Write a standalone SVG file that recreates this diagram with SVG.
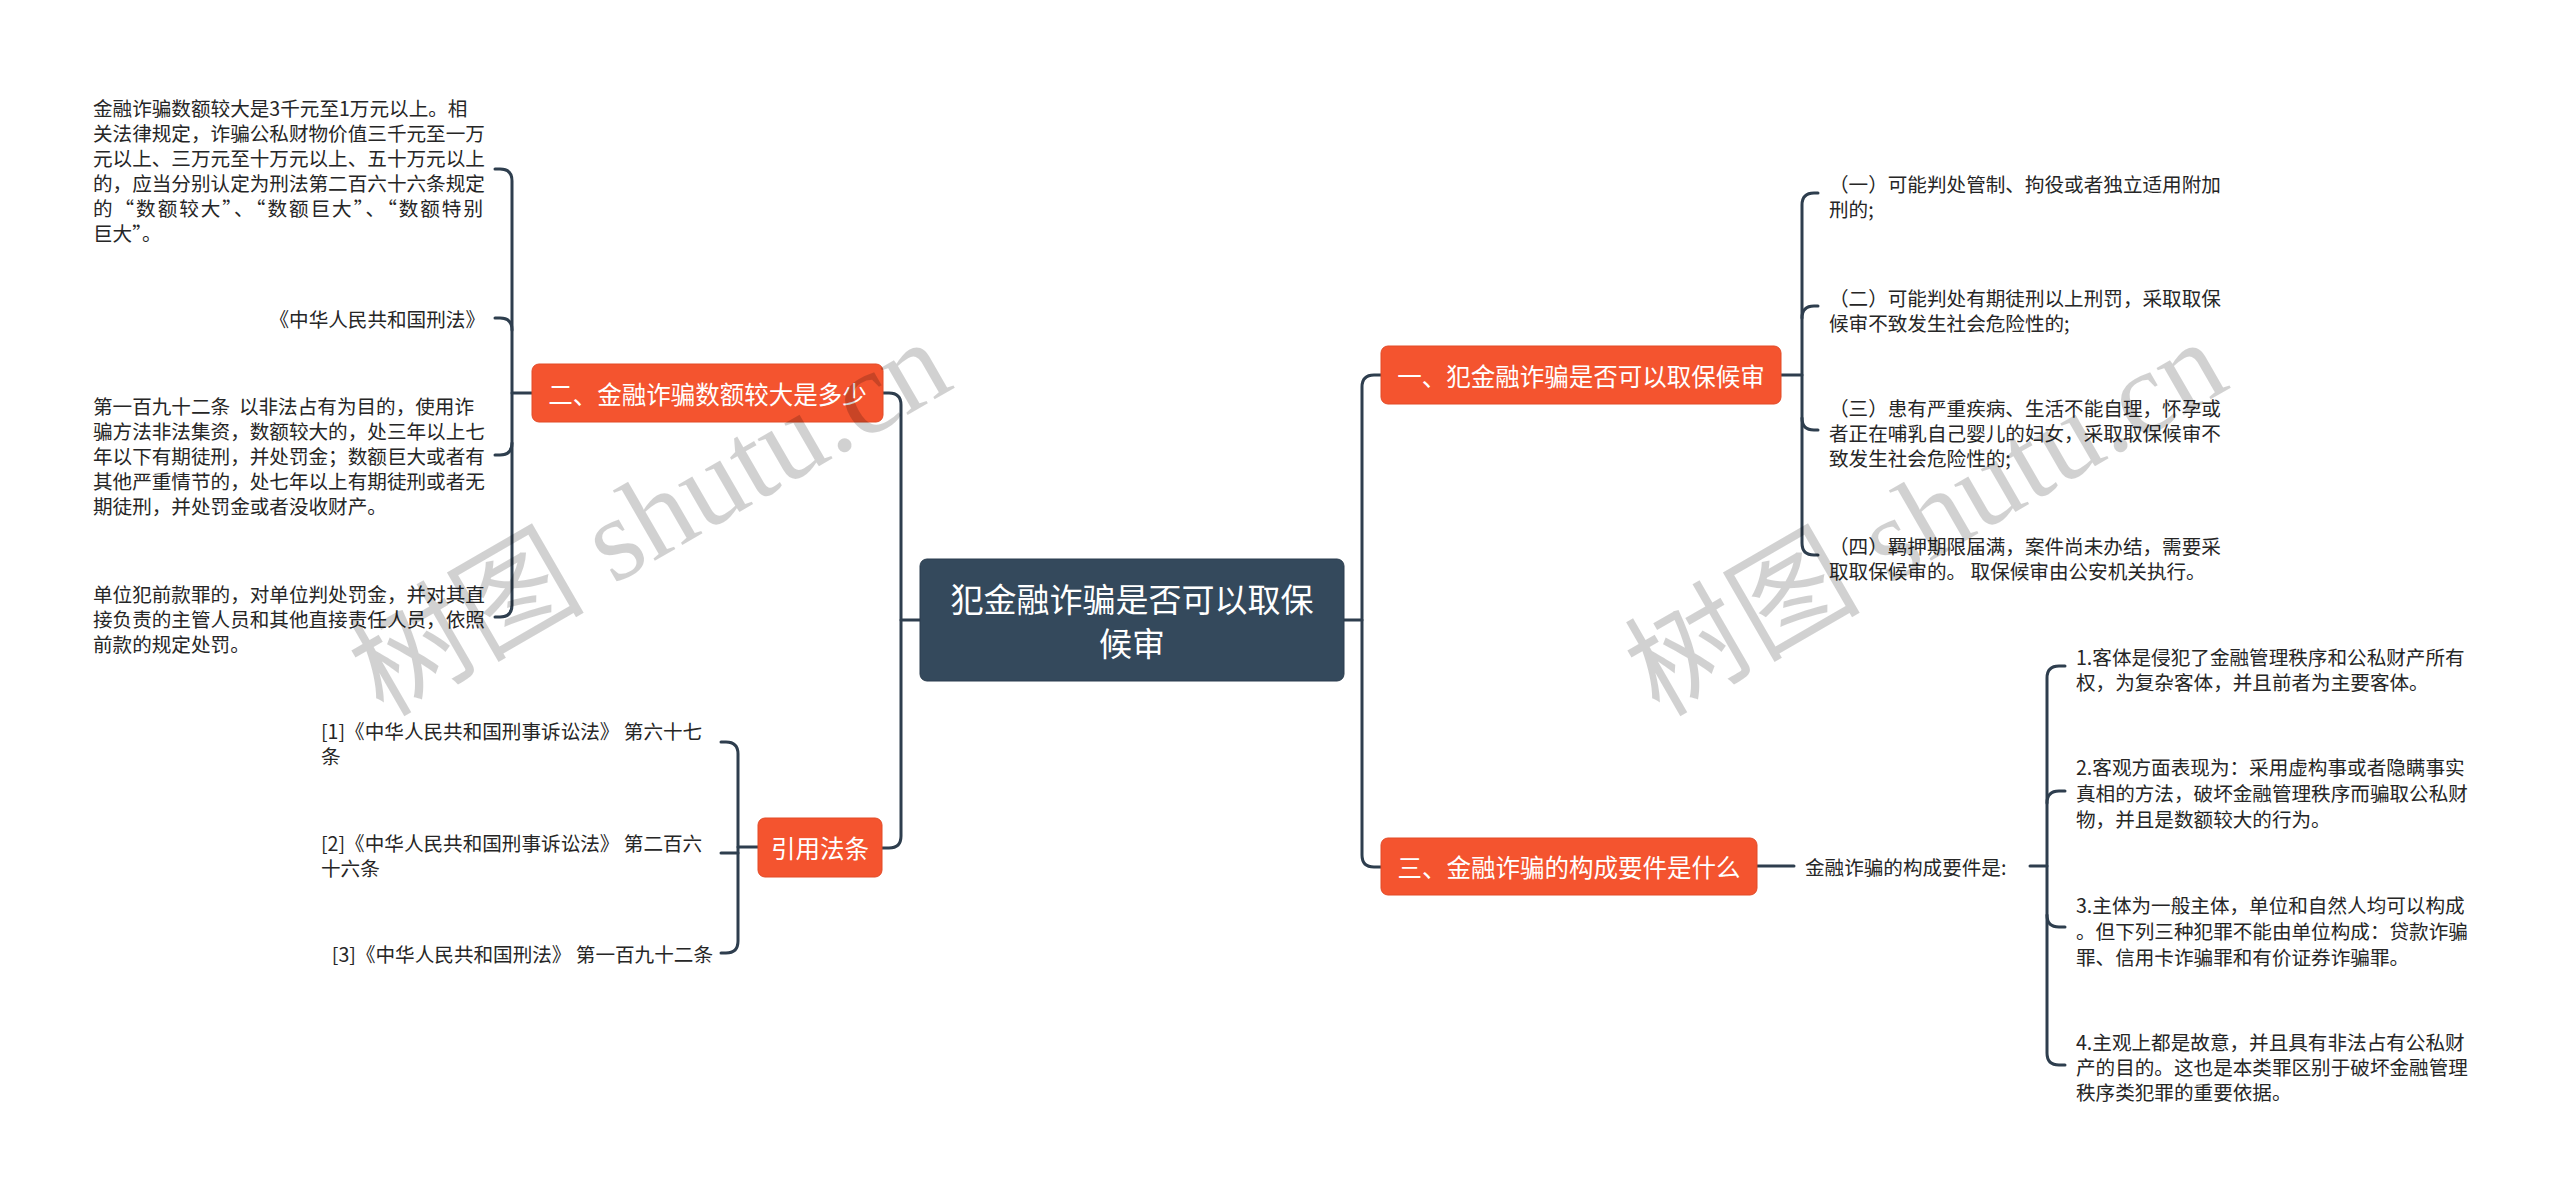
<svg xmlns="http://www.w3.org/2000/svg" width="2560" height="1197" viewBox="0 0 2560 1197">
<style>
text { font-family: "Noto Sans CJK SC", "Liberation Sans", sans-serif; dominant-baseline: central; }
.leaf { font-size: 19.6px; fill: #262626; }
.main { font-size: 24.5px; fill: #ffffff; text-anchor: middle; }
.center { font-size: 33px; fill: #ffffff; text-anchor: middle; }
.mbox { fill: #f4542f; stroke: #e24a27; stroke-width: 1; }
.cbox { fill: #34495c; stroke: #2b3d4e; stroke-width: 1; }
.conn { fill: none; stroke: #2e3e4e; stroke-width: 3; stroke-linecap: round; }
.end { text-anchor: end; }
.wm { font-family: "Liberation Serif", "Noto Sans CJK SC", serif; font-size: 118px; fill: #000; fill-opacity: 0.18; text-anchor: middle; }
</style>
<rect width="2560" height="1197" fill="#ffffff"/>

<g id="connectors">
  <path class="conn" d="M 920 620 H 901"/>
  <path class="conn" d="M 883 393 H 889 Q 901 393 901 405 V 836 Q 901 848 889 848 H 882"/>
  <path class="conn" d="M 1344 620 H 1362"/>
  <path class="conn" d="M 1381 375 H 1374 Q 1362 375 1362 387 V 855 Q 1362 867 1374 867 H 1381"/>

  <path class="conn" d="M 532 393 H 512"/>
  <path class="conn" d="M 495 169 H 500 Q 512 169 512 181 V 605 Q 512 617 500 617 H 495"/>
  <path class="conn" d="M 495 318 H 500 Q 512 318 512 330"/>
  <path class="conn" d="M 495 455 H 500 Q 512 455 512 443"/>

  <path class="conn" d="M 758 847 H 738"/>
  <path class="conn" d="M 721 742 H 726 Q 738 742 738 754 V 941 Q 738 953 726 953 H 721"/>
  <path class="conn" d="M 721 853 H 738"/>

  <path class="conn" d="M 1781 375 H 1802"/>
  <path class="conn" d="M 1818 193 H 1814 Q 1802 193 1802 205 V 543 Q 1802 555 1814 555 H 1818"/>
  <path class="conn" d="M 1818 306 H 1814 Q 1802 306 1802 318"/>
  <path class="conn" d="M 1818 430 H 1814 Q 1802 430 1802 418"/>

  <path class="conn" d="M 1757 866 H 1794"/>
  <path class="conn" d="M 2030 866 H 2047"/>
  <path class="conn" d="M 2065 666 H 2059 Q 2047 666 2047 678 V 1053 Q 2047 1065 2059 1065 H 2065"/>
  <path class="conn" d="M 2065 791 H 2059 Q 2047 791 2047 803"/>
  <path class="conn" d="M 2065 927 H 2059 Q 2047 927 2047 915"/>
</g>

<g id="center">
  <rect class="cbox" x="920" y="559" width="424" height="122" rx="7"/>
  <text class="center" x="1132" y="598">犯金融诈骗是否可以取保</text>
  <text class="center" x="1132" y="642">候审</text>
</g>

<g id="main1">
  <rect class="mbox" x="1381" y="346" width="400" height="58" rx="7"/>
  <text class="main" x="1581" y="375">一、犯金融诈骗是否可以取保候审</text>
</g>
<g id="main2">
  <rect class="mbox" x="532" y="364" width="351" height="58" rx="7"/>
  <text class="main" x="707.5" y="393">二、金融诈骗数额较大是多少</text>
</g>
<g id="main3">
  <rect class="mbox" x="1381" y="838" width="376" height="57" rx="7"/>
  <text class="main" x="1569" y="866">三、金融诈骗的构成要件是什么</text>
</g>
<g id="main4">
  <rect class="mbox" x="758" y="818" width="124" height="59" rx="7"/>
  <text class="main" x="820" y="847">引用法条</text>
</g>

<g id="m2c1">
  <text class="leaf" x="93" y="107">金融诈骗数额较大是3千元至1万元以上。相</text>
  <text class="leaf" x="93" y="132">关法律规定，诈骗公私财物价值三千元至一万</text>
  <text class="leaf" x="93" y="157">元以上、三万元至十万元以上、五十万元以上</text>
  <text class="leaf" x="93" y="182">的，应当分别认定为刑法第二百六十六条规定</text>
  <text class="leaf" x="93" y="207" textLength="390" lengthAdjust="spacing">的“数额较大”、“数额巨大”、“数额特别</text>
  <text class="leaf" x="93" y="232">巨大”。</text>
</g>
<g id="m2c2">
  <text class="leaf end" x="485" y="318">《中华人民共和国刑法》</text>
</g>
<g id="m2c3">
  <text class="leaf" x="93" y="405" xml:space="preserve">第一百九十二条  以非法占有为目的，使用诈</text>
  <text class="leaf" x="93" y="430">骗方法非法集资，数额较大的，处三年以上七</text>
  <text class="leaf" x="93" y="455">年以下有期徒刑，并处罚金；数额巨大或者有</text>
  <text class="leaf" x="93" y="480">其他严重情节的，处七年以上有期徒刑或者无</text>
  <text class="leaf" x="93" y="505">期徒刑，并处罚金或者没收财产。</text>
</g>
<g id="m2c4">
  <text class="leaf" x="93" y="593">单位犯前款罪的，对单位判处罚金，并对其直</text>
  <text class="leaf" x="93" y="618">接负责的主管人员和其他直接责任人员，依照</text>
  <text class="leaf" x="93" y="643">前款的规定处罚。</text>
</g>

<g id="m4c1">
  <text class="leaf" x="321" y="730">[1]《中华人民共和国刑事诉讼法》 第六十七</text>
  <text class="leaf" x="321" y="755">条</text>
</g>
<g id="m4c2">
  <text class="leaf" x="321" y="842">[2]《中华人民共和国刑事诉讼法》 第二百六</text>
  <text class="leaf" x="321" y="867">十六条</text>
</g>
<g id="m4c3">
  <text class="leaf end" x="713" y="953">[3]《中华人民共和国刑法》 第一百九十二条</text>
</g>

<g id="m1c1">
  <text class="leaf" x="1829" y="183">（一）可能判处管制、拘役或者独立适用附加</text>
  <text class="leaf" x="1829" y="208">刑的;</text>
</g>
<g id="m1c2">
  <text class="leaf" x="1829" y="297">（二）可能判处有期徒刑以上刑罚，采取取保</text>
  <text class="leaf" x="1829" y="322">候审不致发生社会危险性的;</text>
</g>
<g id="m1c3">
  <text class="leaf" x="1829" y="407">（三）患有严重疾病、生活不能自理，怀孕或</text>
  <text class="leaf" x="1829" y="432">者正在哺乳自己婴儿的妇女，采取取保候审不</text>
  <text class="leaf" x="1829" y="457">致发生社会危险性的;</text>
</g>
<g id="m1c4">
  <text class="leaf" x="1829" y="545">（四）羁押期限届满，案件尚未办结，需要采</text>
  <text class="leaf" x="1829" y="570">取取保候审的。 取保候审由公安机关执行。</text>
</g>

<g id="m3c0">
  <text class="leaf" x="1805" y="866">金融诈骗的构成要件是:</text>
</g>
<g id="m3c1">
  <text class="leaf" x="2076" y="656">1.客体是侵犯了金融管理秩序和公私财产所有</text>
  <text class="leaf" x="2076" y="681">权，为复杂客体，并且前者为主要客体。</text>
</g>
<g id="m3c2">
  <text class="leaf" x="2076" y="766">2.客观方面表现为：采用虚构事或者隐瞒事实</text>
  <text class="leaf" x="2076" y="792">真相的方法，破坏金融管理秩序而骗取公私财</text>
  <text class="leaf" x="2076" y="818">物，并且是数额较大的行为。</text>
</g>
<g id="m3c3">
  <text class="leaf" x="2076" y="904">3.主体为一般主体，单位和自然人均可以构成</text>
  <text class="leaf" x="2076" y="930">。但下列三种犯罪不能由单位构成：贷款诈骗</text>
  <text class="leaf" x="2076" y="956">罪、信用卡诈骗罪和有价证券诈骗罪。</text>
</g>
<g id="m3c4">
  <text class="leaf" x="2076" y="1041">4.主观上都是故意，并且具有非法占有公私财</text>
  <text class="leaf" x="2076" y="1066">产的目的。这也是本类罪区别于破坏金融管理</text>
  <text class="leaf" x="2076" y="1091">秩序类犯罪的重要依据。</text>
</g>

<g id="watermarks">
  <text class="wm" transform="translate(650 518) rotate(-30)">树图 shutu.cn</text>
  <text class="wm" transform="translate(1926 518) rotate(-30)">树图 shutu.cn</text>
</g>
</svg>
